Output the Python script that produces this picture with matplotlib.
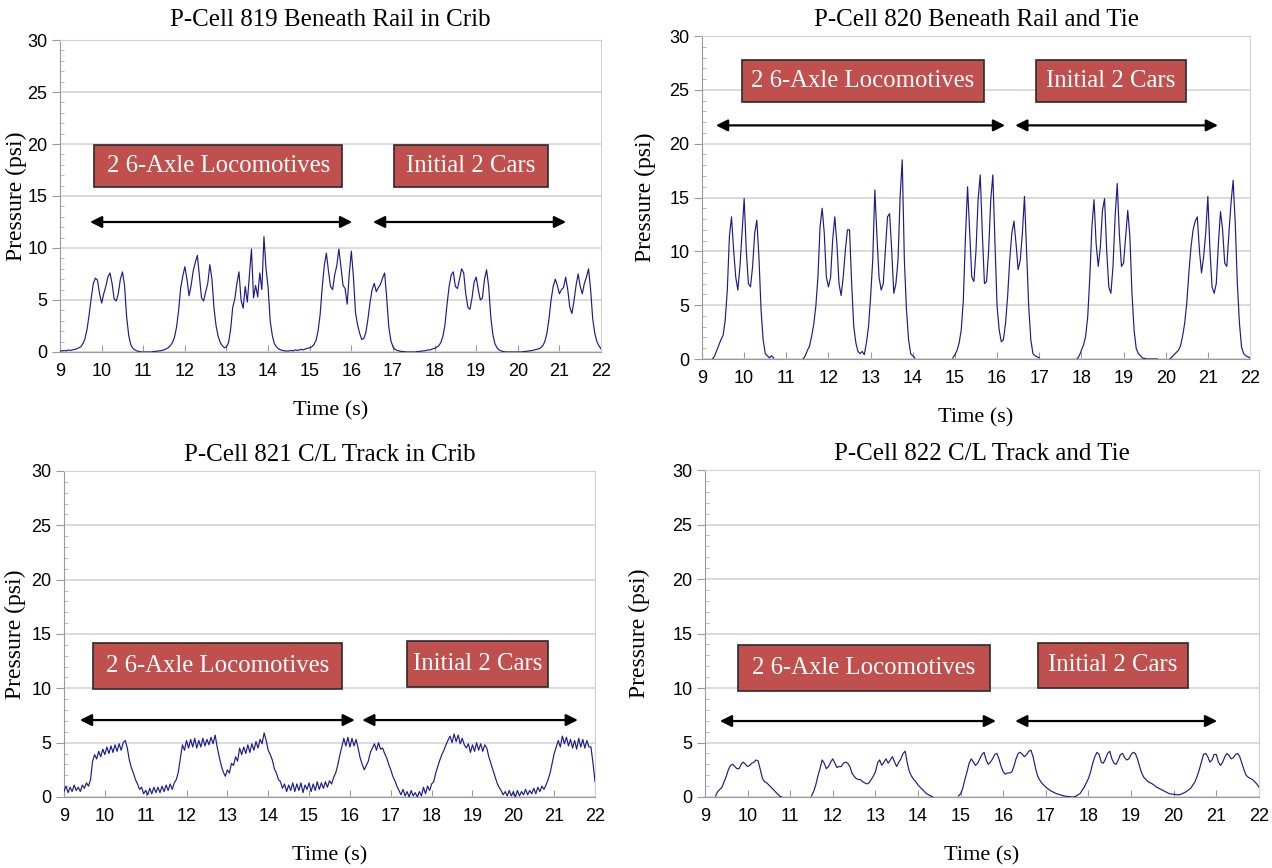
import numpy as np
import matplotlib
matplotlib.use("Agg")
import matplotlib.pyplot as plt
from matplotlib.patches import Rectangle, FancyArrowPatch
from matplotlib.ticker import MultipleLocator

nan = np.nan

# time base shared by all four pressure cells (s)
time_s = np.round(np.arange(9.0, 22.0001, 0.05), 2)

# P-Cell 819, beneath rail in crib (psi)
p819 = [
    0.1, 0.1, 0.15, 0.1, 0.2, 0.15, 0.2, 0.25, 0.3, 0.4, 0.5, 0.8, 1.3, 2.2, 3.6, 5.2, 6.6, 7.1, 6.9, 5.6,
    4.7, 5.6, 6.3, 7.2, 7.6, 6.6, 5.1, 4.9, 5.6, 7.0, 7.7, 6.4, 3.4, 1.6, 0.7, 0.35, 0.2, 0.1, 0.05, 0.0,
    0.0, 0.0, 0.0, 0.0, 0.0, 0.05, 0.05, 0.1, 0.1, 0.15, 0.2, 0.3, 0.4, 0.6, 0.9, 1.4, 2.4, 4.0, 6.2, 7.3,
    8.2, 7.0, 5.4, 6.4, 7.8, 8.6, 9.3, 7.2, 5.2, 4.9, 5.8, 6.6, 8.4, 7.0, 4.2, 2.5, 1.5, 0.9, 0.6, 0.4,
    0.5, 0.9, 2.2, 4.3, 5.1, 6.6, 7.7, 5.0, 4.2, 6.3, 4.8, 7.4, 9.9, 5.2, 6.4, 5.3, 7.6, 6.0, 11.1, 8.0,
    6.2, 3.0, 1.6, 0.8, 0.5, 0.3, 0.2, 0.15, 0.1, 0.1, 0.1, 0.15, 0.1, 0.2, 0.15, 0.2, 0.25, 0.2, 0.3, 0.35,
    0.4, 0.5, 0.7, 1.1, 2.0, 3.6, 6.2, 8.3, 9.5, 7.8, 6.3, 6.0, 7.4, 8.3, 9.9, 8.2, 6.4, 6.1, 4.6, 7.5,
    9.7, 7.2, 3.8, 2.6, 1.8, 1.2, 1.3, 1.9, 3.2, 4.8, 6.0, 6.6, 5.8, 6.2, 6.5, 7.1, 7.6, 5.2, 2.4, 1.1,
    0.5, 0.25, 0.15, 0.1, 0.05, 0.05, 0.0, 0.0, 0.0, 0.0, 0.0, 0.0, 0.05, 0.05, 0.1, 0.1, 0.15, 0.2, 0.2, 0.3,
    0.35, 0.45, 0.6, 0.9, 1.5, 2.6, 4.6, 6.3, 7.4, 7.7, 6.3, 6.1, 7.0, 8.0, 7.6, 5.6, 4.3, 4.1, 5.2, 6.7,
    7.2, 6.0, 5.0, 5.2, 7.0, 7.9, 6.3, 3.4, 1.7, 0.8, 0.4, 0.2, 0.1, 0.05, 0.0, 0.0, 0.0, 0.0, 0.0, 0.0,
    0.0, 0.0, 0.0, 0.05, 0.05, 0.1, 0.1, 0.15, 0.2, 0.25, 0.3, 0.4, 0.6, 1.0, 1.8, 3.2, 5.0, 6.3, 7.0, 6.4,
    5.6, 6.0, 6.2, 7.2, 6.0, 4.3, 3.7, 4.9, 6.4, 7.5, 6.3, 5.6, 6.6, 7.2, 8.0, 6.0, 3.2, 1.8, 1.0, 0.6,
    0.3,
]

# P-Cell 820, beneath rail and tie (psi); nan where the gauge read below zero
p820 = [
    nan, nan, nan, nan, nan, 0.0, 0.3, 0.8, 1.3, 1.8, 2.2, 3.6, 6.4, 11.4, 13.2, 10.1, 7.6, 6.4, 8.6, 11.7,
    14.9, 10.1, 7.0, 6.7, 8.6, 11.7, 12.9, 9.5, 4.6, 1.8, 0.5, 0.3, 0.1, 0.3, 0.1, nan, nan, nan, nan, nan,
    nan, nan, nan, nan, nan, nan, nan, nan, 0.0, 0.3, 0.8, 1.2, 2.1, 3.2, 4.9, 7.6, 12.3, 14.0, 11.7, 7.6,
    6.7, 7.6, 11.1, 13.2, 10.7, 7.0, 5.9, 7.6, 10.1, 12.0, 12.0, 7.0, 3.0, 1.5, 0.7, 0.5, 0.7, 0.4, 1.5, 3.0,
    5.8, 9.2, 15.7, 11.4, 7.6, 6.4, 7.0, 10.1, 13.2, 13.5, 10.1, 6.1, 7.0, 9.2, 15.1, 18.5, 9.2, 4.6, 1.8, 0.5,
    0.3, 0.1, nan, nan, nan, nan, nan, nan, nan, nan, nan, nan, nan, nan, nan, nan, nan, nan, nan, 0.1,
    0.4, 0.8, 1.5, 2.7, 5.5, 11.4, 16.0, 11.7, 7.6, 7.2, 10.1, 14.8, 17.1, 11.7, 7.0, 7.2, 10.1, 14.8, 17.1, 10.7,
    4.9, 2.7, 1.6, 1.8, 3.3, 5.8, 9.2, 11.7, 12.8, 10.7, 8.3, 9.2, 11.7, 15.1, 10.1, 4.9, 1.8, 0.5, 0.3, 0.2,
    0.1, nan, nan, nan, nan, nan, nan, nan, nan, nan, nan, nan, nan, nan, nan, nan, nan, nan, 0.0, 0.3,
    0.8, 1.3, 2.1, 3.9, 7.6, 12.3, 14.8, 10.7, 8.6, 10.4, 13.8, 14.9, 10.1, 6.7, 6.1, 8.6, 13.2, 16.3, 11.7, 8.6,
    8.9, 11.4, 13.8, 11.4, 6.1, 2.7, 1.0, 0.5, 0.3, 0.1, 0.05, 0.0, 0.0, 0.0, 0.0, 0.0, 0.0, nan, nan, nan,
    nan, nan, 0.0, 0.2, 0.4, 0.6, 0.8, 1.2, 2.1, 3.3, 5.2, 8.0, 10.4, 12.0, 12.8, 13.2, 10.1, 8.0, 9.5, 11.7,
    15.1, 10.1, 6.7, 6.1, 7.0, 10.7, 13.7, 12.0, 8.9, 8.6, 11.7, 14.5, 16.6, 12.6, 7.0, 3.3, 1.1, 0.5, 0.3, 0.2,
    0.1,
]

# P-Cell 821, C/L track in crib (psi)
p821 = [
    0.5, 1.0, 0.4, 0.9, 0.5, 1.1, 0.6, 0.9, 0.5, 1.1, 0.8, 1.3, 1.0, 1.6, 3.3, 3.9, 3.5, 4.2, 3.7, 4.4,
    3.9, 4.6, 4.0, 4.7, 4.1, 4.8, 4.2, 4.9, 4.3, 5.0, 5.2, 4.5, 3.4, 2.7, 2.2, 1.6, 1.2, 0.7, 0.9, 0.3,
    0.6, 0.2, 0.8, 0.3, 0.9, 0.4, 0.9, 0.4, 1.0, 0.5, 1.1, 0.6, 1.2, 0.7, 1.3, 1.6, 2.3, 3.6, 4.8, 4.3,
    5.2, 4.5, 5.3, 4.6, 5.4, 4.5, 5.2, 4.6, 5.4, 4.7, 5.3, 4.8, 5.5, 4.9, 5.7, 4.6, 3.7, 2.9, 2.3, 1.9,
    2.5, 2.2, 3.1, 2.9, 3.7, 3.3, 4.5, 3.9, 4.6, 4.0, 4.8, 4.1, 4.9, 4.3, 5.1, 4.5, 5.3, 4.9, 5.9, 5.2,
    4.3, 3.9, 3.4, 2.6, 2.2, 1.6, 1.4, 0.8, 1.2, 0.5, 1.1, 0.6, 1.3, 0.5, 1.2, 0.6, 1.3, 0.4, 1.1, 0.7,
    1.3, 0.5, 1.2, 0.6, 1.4, 0.7, 1.3, 0.8, 1.4, 0.9, 1.5, 1.2, 1.8, 2.2, 2.9, 3.8, 4.6, 5.4, 4.7, 5.5,
    4.6, 5.4, 4.7, 5.3, 4.5, 3.6, 3.0, 2.5, 2.9, 3.3, 4.1, 4.5, 4.9, 4.3, 5.0, 4.4, 4.5, 4.0, 3.6, 3.0,
    2.5, 1.9, 1.5, 1.0, 0.6, 0.2, 0.7, 0.1, 0.5, 0.0, 0.6, 0.1, 0.4, 0.0, 0.5, 0.1, 0.9, 0.3, 1.0, 0.6,
    1.2, 1.4, 2.2, 2.8, 3.4, 3.9, 4.3, 4.8, 5.2, 5.6, 5.0, 5.8, 5.1, 5.7, 4.9, 5.4, 4.8, 4.5, 4.9, 4.1,
    4.8, 4.2, 5.0, 4.3, 4.9, 4.2, 4.8, 4.5, 3.7, 3.1, 2.5, 1.9, 1.3, 0.9, 0.6, 0.2, 0.5, 0.1, 0.6, 0.1,
    0.5, 0.0, 0.6, 0.1, 0.5, 0.2, 0.7, 0.2, 0.6, 0.3, 0.8, 0.3, 0.9, 0.5, 1.0, 0.7, 1.1, 1.6, 2.2, 3.1,
    4.0, 4.6, 5.2, 4.6, 5.6, 4.9, 5.5, 4.7, 5.3, 4.5, 5.2, 4.4, 5.4, 4.6, 5.3, 4.5, 5.2, 4.6, 4.6, 3.1,
    1.4,
]

# P-Cell 822, C/L track and tie (psi); nan where the gauge read below zero
p822 = [
    nan, nan, nan, nan, nan, 0.1, 0.5, 0.7, 0.9, 1.4, 1.9, 2.5, 2.9, 3.0, 2.8, 2.6, 2.6, 3.0, 3.2, 3.0,
    2.8, 2.9, 3.1, 3.2, 3.4, 3.3, 2.5, 1.7, 1.4, 1.3, 1.1, 0.9, 0.7, 0.5, 0.3, 0.1, 0.0, nan, nan, nan,
    nan, nan, nan, nan, nan, nan, nan, nan, nan, nan, 0.1, 0.5, 1.1, 1.9, 2.6, 3.4, 3.1, 2.6, 2.8, 3.2,
    3.5, 3.1, 2.7, 2.8, 2.8, 3.1, 3.2, 3.1, 2.8, 2.2, 1.9, 1.7, 1.6, 1.6, 1.4, 1.3, 1.2, 1.3, 1.6, 1.9,
    2.3, 3.1, 3.4, 2.9, 3.2, 3.5, 3.1, 3.4, 3.7, 3.2, 2.8, 3.2, 3.5, 4.0, 4.2, 3.1, 2.3, 1.9, 1.6, 1.4,
    1.1, 0.9, 0.7, 0.5, 0.3, 0.2, 0.1, 0.0, nan, nan, nan, nan, nan, nan, nan, nan, nan, nan, nan, 0.1,
    0.3, 0.8, 1.6, 2.3, 3.1, 3.5, 3.2, 2.9, 3.1, 3.5, 3.9, 4.1, 3.4, 3.0, 3.2, 3.5, 3.9, 4.0, 3.5, 2.8,
    2.3, 2.1, 2.2, 2.2, 2.3, 2.8, 3.5, 4.0, 4.1, 3.9, 3.7, 3.9, 4.2, 4.3, 3.7, 2.8, 2.0, 1.6, 1.3, 1.1,
    0.9, 0.75, 0.6, 0.5, 0.4, 0.3, 0.25, 0.18, 0.12, 0.08, 0.05, 0.02, 0.0, 0.0, 0.05, 0.2, 0.3, 0.6, 0.9, 1.3,
    1.7, 2.3, 3.1, 3.7, 4.1, 3.9, 3.2, 3.1, 3.5, 4.0, 4.2, 3.5, 3.1, 3.0, 3.4, 3.9, 4.0, 3.6, 3.4, 3.5,
    3.9, 4.1, 4.0, 3.5, 2.8, 2.2, 1.8, 1.6, 1.4, 1.3, 1.2, 1.05, 0.9, 0.8, 0.7, 0.6, 0.5, 0.4, 0.3, 0.28,
    0.25, 0.22, 0.2, 0.22, 0.3, 0.4, 0.5, 0.65, 0.8, 1.1, 1.4, 1.9, 2.5, 3.2, 3.9, 4.0, 3.7, 3.2, 3.4, 3.9,
    3.9, 3.2, 2.9, 3.2, 3.7, 4.0, 3.8, 3.5, 3.6, 3.9, 4.0, 3.7, 3.1, 2.5, 2.0, 1.8, 1.7, 1.6, 1.4, 1.2,
    0.9,
]

titles = [
    "P-Cell 819 Beneath Rail in Crib",
    "P-Cell 820 Beneath Rail and Tie",
    "P-Cell 821 C/L Track in Crib",
    "P-Cell 822 C/L Track and Tie",
]
series = [p819, p820, p821, p822]
group_labels = ["2 6-Axle Locomotives", "Initial 2 Cars"]

# per panel: axes rect, label boxes (x0, x1, y0, y1), arrow spans (x0, x1), arrow height,
# plus title / y-label padding
panels = [
    dict(rect=[0.0472, 0.5945, 0.4253, 0.3594],
         boxes=[(9.82, 15.78, 15.9, 19.9), (17.03, 20.73, 15.9, 19.9)],
         arrows=[(9.72, 16.02), (16.52, 21.16)], arrow_y=12.5,
         title_pad=10, ylabel_pad=0),
    dict(rect=[0.5519, 0.5864, 0.4308, 0.3721],
         boxes=[(9.95, 15.69, 23.9, 27.8), (16.92, 20.48, 23.9, 27.8)],
         arrows=[(9.33, 16.19), (16.43, 21.24)], arrow_y=21.7,
         title_pad=7, ylabel_pad=10),
    dict(rect=[0.0503, 0.0818, 0.4175, 0.3756],
         boxes=[(9.71, 15.81, 9.94, 14.17), (17.40, 20.85, 10.12, 14.35)],
         arrows=[(9.39, 16.12), (16.30, 21.58)], arrow_y=7.08,
         title_pad=7, ylabel_pad=4),
    dict(rect=[0.5542, 0.0818, 0.4355, 0.3767],
         boxes=[(9.77, 15.69, 9.72, 13.94), (16.82, 20.34, 10.0, 14.13)],
         arrows=[(9.35, 15.83), (16.28, 21.02)], arrow_y=6.97,
         title_pad=7, ylabel_pad=16),
]

serif = ["Liberation Serif", "DejaVu Serif"]
sans = ["Liberation Sans", "DejaVu Sans"]
line_color = "#1c1c8e"
box_color = "#c0504d"

fig = plt.figure(figsize=(12.72, 8.68), dpi=100)

for title, values, panel in zip(titles, series, panels):
    ax = fig.add_axes(panel["rect"])
    ax.plot(time_s, values, color=line_color, lw=0.85, zorder=3)

    ax.set_xlim(9, 22)
    ax.set_ylim(0, 30)
    ax.xaxis.set_major_locator(MultipleLocator(1))
    ax.yaxis.set_major_locator(MultipleLocator(5))
    ax.yaxis.set_minor_locator(MultipleLocator(1))
    ax.grid(axis="y", color="#d4d4d4", lw=1.2, zorder=0)
    ax.set_axisbelow(True)

    for side in ("top", "right"):
        ax.spines[side].set_color("#d0d0d0")
    for side in ("left", "bottom"):
        ax.spines[side].set_color("#9a9a9a")

    ax.tick_params(axis="y", which="major", direction="out", length=6, color="#9a9a9a",
                   labelsize=13, pad=3)
    ax.tick_params(axis="y", which="minor", direction="in", length=3, color="#b0b0b0")
    ax.tick_params(axis="x", which="major", direction="in", length=5, color="#9a9a9a",
                   labelsize=13, pad=8)
    for lab in ax.get_xticklabels() + ax.get_yticklabels():
        lab.set_fontfamily(sans)

    ax.set_title(title, fontfamily=serif, fontsize=18, pad=panel["title_pad"])
    ax.set_xlabel("Time (s)", fontfamily=serif, fontsize=16, labelpad=15)
    ax.set_ylabel("Pressure (psi)", fontfamily=serif, fontsize=17, labelpad=panel["ylabel_pad"])

    for (x0, x1, y0, y1), label in zip(panel["boxes"], group_labels):
        ax.add_patch(Rectangle((x0, y0), x1 - x0, y1 - y0, facecolor=box_color,
                               edgecolor="#2a2a2a", lw=1.2, zorder=4))
        ax.text((x0 + x1) / 2, (y0 + y1) / 2, label, color="white", fontfamily=serif,
                fontsize=17.8, ha="center", va="center", zorder=5)

    for x0, x1 in panel["arrows"]:
        ax.add_patch(FancyArrowPatch((x0, panel["arrow_y"]), (x1, panel["arrow_y"]),
                                     arrowstyle="<|-|>,head_length=7,head_width=3.5",
                                     color="black", lw=1.6, shrinkA=0, shrinkB=0, zorder=4))

fig.savefig("out.png", dpi=100, facecolor="white")
